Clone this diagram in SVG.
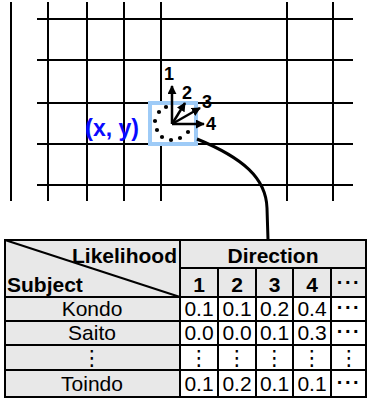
<svg xmlns="http://www.w3.org/2000/svg" width="368" height="402" viewBox="0 0 368 402">
<defs>
<style>
.g{stroke:#000;stroke-width:2;fill:none}
.ar{stroke:#000;stroke-width:2.5;fill:none;marker-end:url(#ah)}
.lbl{font-family:"Liberation Sans",Arial,sans-serif;font-weight:bold;font-size:18px;fill:#000}
.cell{stroke:#000;stroke-width:2}
.hd{fill:#e8e8e8}
.wt{fill:#fff}
.tb{font-family:"Liberation Sans",Arial,sans-serif;font-weight:bold;font-size:21px;fill:#000}
.tr{font-family:"Liberation Sans",Arial,sans-serif;font-size:21px;fill:#000;text-anchor:middle}
.dd{font-family:"Liberation Sans",Arial,sans-serif;font-weight:bold;font-size:20px;fill:#000;text-anchor:middle;letter-spacing:1.5px}
.vd{font-family:"DejaVu Sans","Liberation Sans",sans-serif;font-size:21px;fill:#000;text-anchor:middle}
</style>
<marker id="ah" viewBox="0 0 10 10" refX="9" refY="5" markerWidth="3.6" markerHeight="3.6" orient="auto" markerUnits="strokeWidth">
<path d="M0,0 L10,5 L0,10 z" fill="#000"/>
</marker>
</defs>
<rect width="368" height="402" fill="#fff"/>
<g id="grid">
<line class="g" x1="11" y1="2" x2="11" y2="201"/>
<line class="g" x1="48" y1="2" x2="48" y2="201"/>
<line class="g" x1="87" y1="2" x2="87" y2="201"/>
<line class="g" x1="124" y1="2" x2="124" y2="201"/>
<line class="g" x1="161" y1="2" x2="161" y2="201"/>
<line class="g" x1="287" y1="2" x2="287" y2="201"/>
<line class="g" x1="333" y1="2" x2="333" y2="201"/>
<line class="g" x1="37" y1="19" x2="353" y2="19"/>
<line class="g" x1="37" y1="60" x2="353" y2="60"/>
<line class="g" x1="37" y1="103" x2="353" y2="103"/>
<line class="g" x1="37" y1="144" x2="353" y2="144"/>
<line class="g" x1="37" y1="185" x2="353" y2="185"/>
</g>
<g id="cell-xy">
<rect x="150" y="103" width="46" height="41" fill="#fff" stroke="#9ecbf7" stroke-width="4"/>
<g fill="#000">
<circle cx="166" cy="107" r="2.1"/>
<circle cx="159" cy="112" r="2.1"/>
<circle cx="155" cy="121" r="2.1"/>
<circle cx="157" cy="130" r="2.1"/>
<circle cx="162" cy="137" r="2.1"/>
<circle cx="171" cy="140" r="2.1"/>
<circle cx="180" cy="138" r="2.1"/>
<circle cx="188" cy="132" r="2.1"/>
</g>
<text x="139" y="136" font-family="Liberation Sans,Arial,sans-serif" font-weight="bold" font-size="23" fill="#0a0aff" text-anchor="end">(x, y)</text>
</g>
<g id="arrows">
<line class="ar" x1="172" y1="124" x2="172" y2="86"/>
<line class="ar" x1="172" y1="124" x2="185" y2="103"/>
<line class="ar" x1="172" y1="124" x2="200" y2="108"/>
<line class="ar" x1="172" y1="124" x2="204" y2="124"/>
<text class="lbl" x="164" y="80">1</text>
<text class="lbl" x="182" y="99">2</text>
<text class="lbl" x="202" y="108">3</text>
<text class="lbl" x="206" y="130">4</text>
</g>
<g id="connectors">
<path d="M197,139 C243,158 266,178 267,208 L268,240" fill="none" stroke="#000" stroke-width="3"/>
</g>
<g id="table">
<rect class="cell hd" x="5" y="240" width="175" height="57"/>
<line class="cell" x1="5" y1="240" x2="180" y2="297"/>
<rect class="cell hd" x="180" y="240" width="186" height="28"/>
<rect class="cell hd" x="180" y="268" width="38" height="29"/>
<rect class="cell hd" x="218" y="268" width="38" height="29"/>
<rect class="cell hd" x="256" y="268" width="37" height="29"/>
<rect class="cell hd" x="293" y="268" width="38" height="29"/>
<rect class="cell hd" x="331" y="268" width="35" height="29"/>
<text class="tb" x="177" y="263" text-anchor="end">Likelihood</text>
<text class="tb" x="7" y="292">Subject</text>
<text class="tb" x="273" y="263" text-anchor="middle">Direction</text>
<text class="tb" x="199" y="292" text-anchor="middle">1</text>
<text class="tb" x="237" y="292" text-anchor="middle">2</text>
<text class="tb" x="274.5" y="292" text-anchor="middle">3</text>
<text class="tb" x="312" y="292" text-anchor="middle">4</text>
<text class="dd" x="349" y="289">···</text>
</g>
<g id="row-kondo">
<rect class="cell hd" x="5" y="297" width="175" height="24"/>
<rect class="cell wt" x="180" y="297" width="38" height="24"/>
<rect class="cell wt" x="218" y="297" width="38" height="24"/>
<rect class="cell wt" x="256" y="297" width="37" height="24"/>
<rect class="cell wt" x="293" y="297" width="38" height="24"/>
<rect class="cell wt" x="331" y="297" width="35" height="24"/>
<text class="tr" x="92" y="316">Kondo</text>
<text class="tr" x="199" y="316">0.1</text>
<text class="tr" x="237" y="316">0.1</text>
<text class="tr" x="274.5" y="316">0.2</text>
<text class="tr" x="312" y="316">0.4</text>
<text class="dd" x="349" y="314">···</text>
</g>
<g id="row-saito">
<rect class="cell hd" x="5" y="321" width="175" height="24"/>
<rect class="cell wt" x="180" y="321" width="38" height="24"/>
<rect class="cell wt" x="218" y="321" width="38" height="24"/>
<rect class="cell wt" x="256" y="321" width="37" height="24"/>
<rect class="cell wt" x="293" y="321" width="38" height="24"/>
<rect class="cell wt" x="331" y="321" width="35" height="24"/>
<text class="tr" x="92" y="340">Saito</text>
<text class="tr" x="199" y="340">0.0</text>
<text class="tr" x="237" y="340">0.0</text>
<text class="tr" x="274.5" y="340">0.1</text>
<text class="tr" x="312" y="340">0.3</text>
<text class="dd" x="349" y="338">···</text>
</g>
<g id="row-ellipsis">
<rect class="cell hd" x="5" y="345" width="175" height="25"/>
<rect class="cell wt" x="180" y="345" width="38" height="25"/>
<rect class="cell wt" x="218" y="345" width="38" height="25"/>
<rect class="cell wt" x="256" y="345" width="37" height="25"/>
<rect class="cell wt" x="293" y="345" width="38" height="25"/>
<rect class="cell wt" x="331" y="345" width="35" height="25"/>
<text class="vd" x="92" y="365">⋮</text>
<text class="vd" x="199" y="365">⋮</text>
<text class="vd" x="237" y="365">⋮</text>
<text class="vd" x="274.5" y="365">⋮</text>
<text class="vd" x="312" y="365">⋮</text>
<text class="vd" x="349" y="365">⋮</text>
</g>
<g id="row-toindo">
<rect class="cell hd" x="5" y="370" width="175" height="27"/>
<rect class="cell wt" x="180" y="370" width="38" height="27"/>
<rect class="cell wt" x="218" y="370" width="38" height="27"/>
<rect class="cell wt" x="256" y="370" width="37" height="27"/>
<rect class="cell wt" x="293" y="370" width="38" height="27"/>
<rect class="cell wt" x="331" y="370" width="35" height="27"/>
<text class="tr" x="92" y="391">Toindo</text>
<text class="tr" x="199" y="391">0.1</text>
<text class="tr" x="237" y="391">0.2</text>
<text class="tr" x="274.5" y="391">0.1</text>
<text class="tr" x="312" y="391">0.1</text>
<text class="dd" x="349" y="389">···</text>
</g>
</svg>
